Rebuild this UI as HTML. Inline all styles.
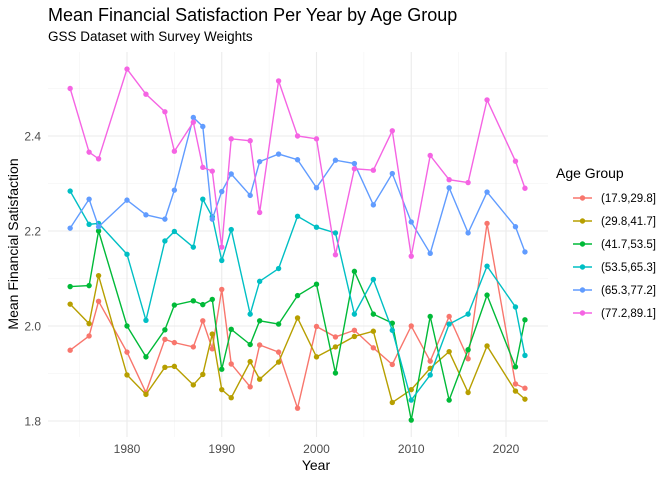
<!DOCTYPE html>
<html><head><meta charset="utf-8"><style>
html,body{margin:0;padding:0;background:#fff;}
svg{display:block;font-family:"Liberation Sans",sans-serif;}
</style></head><body>
<svg id="chart" width="672" height="480" viewBox="0 0 672 480">
<text x="48" y="21" font-size="18" fill="#000">Mean Financial Satisfaction Per Year by Age Group</text>
<text x="48" y="41" font-size="13.5" fill="#000">GSS Dataset with Survey Weights</text>
<g id="grid"></g>
<g id="series"></g>
<g id="axes"></g>
<text x="316" y="470" font-size="14" text-anchor="middle" fill="#000">Year</text>
<text transform="translate(18,244) rotate(-90)" font-size="14" text-anchor="middle" fill="#000">Mean Financial Satisfaction</text>
<g id="legend">
<text x="556" y="178" font-size="14" fill="#000">Age Group</text>
</g>
</svg>
<script>
const years = [1974,1976,1977,1980,1982,1984,1985,1987,1988,1989,1990,1991,1993,1994,1996,1998,2000,2002,2004,2006,2008,2010,2012,2014,2016,2018,2021,2022];
const groups = ["(17.9,29.8]","(29.8,41.7]","(41.7,53.5]","(53.5,65.3]","(65.3,77.2]","(77.2,89.1]"];
const colors = ["#F8766D","#B79F00","#00BA38","#00BFC4","#619CFF","#F564E3"];
const s1 = [1.949,1.979,2.052,1.945,1.86,1.972,1.965,1.956,2.011,1.952,2.077,1.92,1.872,1.96,1.945,1.827,1.999,1.977,1.991,1.954,1.919,2.0,1.926,2.02,1.931,2.216,1.878,1.869];
const s2 = [2.046,2.005,2.106,1.897,1.856,1.913,1.915,1.876,1.898,1.983,1.866,1.849,1.925,1.888,1.924,2.017,1.935,1.956,1.978,1.989,1.839,1.866,1.911,1.946,1.86,1.958,1.863,1.846];
const s3 = [2.083,2.085,2.2,2.0,1.935,1.992,2.044,2.053,2.045,2.056,1.909,1.993,1.961,2.011,2.004,2.064,2.088,1.901,2.115,2.025,2.006,1.802,2.02,1.844,1.95,2.065,1.914,2.013];
const s4 = [2.284,2.214,2.216,2.151,2.012,2.179,2.199,2.166,2.267,2.23,2.138,2.203,2.025,2.094,2.121,2.231,2.208,2.196,2.025,2.098,1.991,1.844,1.897,2.004,2.025,2.126,2.04,1.938];
const s5 = [2.206,2.267,2.209,2.265,2.234,2.225,2.286,2.439,2.42,2.225,2.283,2.32,2.275,2.346,2.362,2.35,2.291,2.349,2.342,2.255,2.321,2.219,2.153,2.291,2.196,2.282,2.209,2.156];
const s6 = [2.5,2.366,2.352,2.541,2.488,2.451,2.368,2.429,2.334,2.326,2.166,2.394,2.39,2.239,2.516,2.4,2.394,2.15,2.331,2.328,2.411,2.147,2.359,2.308,2.302,2.476,2.347,2.29];
const xTicks = [1980,1990,2000,2010,2020];
const yTicks = [1.8,2.0,2.2,2.4];
const ns="http://www.w3.org/2000/svg";
const L=48,R=548,T=52,B=437;
const x = v => 127 + (v-1980)*9.475;
const y = v => 326 - (v-2.0)*475;
function mk(tag,attrs,parent){const e=document.createElementNS(ns,tag);for(const k in attrs)e.setAttribute(k,attrs[k]);parent.appendChild(e);return e;}
const grid=document.getElementById('grid'),axes=document.getElementById('axes'),ser=document.getElementById('series'),leg=document.getElementById('legend');
// minor grid
for(let v=1.7;v<=2.6;v+=0.2){const yy=y(v);if(yy>T&&yy<B){const g=mk('line',{x1:L,x2:R,y1:yy,y2:yy,stroke:'#f2f2f2','stroke-width':0.6},grid);

}}
for(let v=1975;v<=2025;v+=10){const xx=x(v);if(xx>L&&xx<R){const g=mk('line',{x1:xx,x2:xx,y1:T,y2:B,stroke:'#f2f2f2','stroke-width':0.6},grid);

}}
yTicks.forEach(v=>{const yy=y(v);const g=mk('line',{x1:L,x2:R,y1:yy,y2:yy,stroke:'#ebebeb','stroke-width':1.1},grid);


const t=mk('text',{x:41,y:yy+4.5,'font-size':12,'text-anchor':'end',fill:'#4d4d4d'},axes);t.textContent=v.toFixed(1);

});
xTicks.forEach(v=>{const xx=x(v);const g=mk('line',{x1:xx,x2:xx,y1:T,y2:B,stroke:'#ebebeb','stroke-width':1.1},grid);


const t=mk('text',{x:xx,y:453,'font-size':12,'text-anchor':'middle',fill:'#4d4d4d'},axes);t.textContent=v;

});
const all=[s1,s2,s3,s4,s5,s6];
all.forEach((s,i)=>{
 const g=mk('g',{},ser);
 
 
 const p=mk('polyline',{points:years.map((yr,j)=>x(yr)+','+y(s[j])).join(' '),fill:'none',stroke:colors[i],'stroke-width':1.4},g);
 
 
 years.forEach((yr,j)=>{const c=mk('circle',{cx:x(yr),cy:y(s[j]),r:2.7,fill:colors[i]},g);
 
 });
 const ly=198+i*23;
 const kl=mk('line',{x1:573,x2:592,y1:ly,y2:ly,stroke:colors[i],'stroke-width':1.4},leg);
 
 
 const kc=mk('circle',{cx:582.5,cy:ly,r:2.7,fill:colors[i]},leg);
 
 
 const t=mk('text',{x:601,y:ly+4,'font-size':11.5,fill:'#000'},leg);t.textContent=groups[i];
 
 
});
</script>
</body></html>
